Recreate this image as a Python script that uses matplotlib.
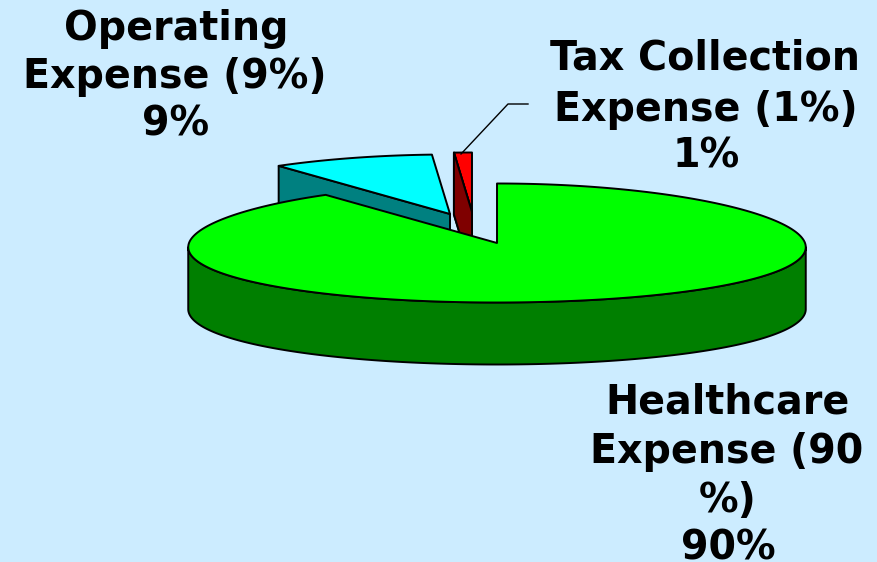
import numpy as np
import matplotlib
matplotlib.use("Agg")
import matplotlib.pyplot as plt
from matplotlib.patches import Polygon

categories = ["Healthcare Expense (90%)", "Operating Expense (9%)", "Tax Collection Expense (1%)"]
values = [90, 9, 1]
percent_labels = ["90%", "9%", "1%"]
top_colors = ["#00FF00", "#00FFFF", "#FF0000"]
side_colors = ["#007F00", "#008080", "#7F0000"]
explode_px = [(0, 0), (-47, -29), (-25, -31)]
wrapped_lines = [["Healthcare", "Expense (90", "%)"], ["Operating", "Expense (9%)"], ["Tax Collection", "Expense (1%)"]]
line_pos = [
    [(728, 413), (727, 463), (728, 512), (728, 559)],
    [(176, 40), (175, 88), (176, 136)],
    [(705, 69), (706, 121), (706, 168)],
]

BG = "#CCECFF"
CX, CY, RX, RY, DEPTH, PERSP = 497, 243, 308, 59.5, 62, 0.07
FS = 28.5

fig = plt.figure(figsize=(8.78, 5.62), dpi=100, facecolor=BG)
ax = fig.add_axes([0, 0, 1, 1])
ax.set_xlim(0, 878)
ax.set_ylim(562, 0)
ax.axis("off")


def rim(a0, a1, dx=0, dy=0):
    a = np.radians(np.linspace(a0, a1, max(int(abs(a1 - a0)) * 2, 2)))
    return np.column_stack([CX + dx + RX * np.sin(a) / (1 + PERSP * np.cos(a)), CY + dy - RY * np.cos(a)])


def poly(pts, color, z, lw=1.4):
    ax.add_patch(Polygon(pts, closed=True, facecolor=color, edgecolor="black", linewidth=lw, joinstyle="round", zorder=z))


edges = np.concatenate([[0], np.cumsum(values)]) * 360 / sum(values)
down = np.array([0, DEPTH])

# Exploded slices sit behind the large one: side faces first, then tops.
for i in (1, 2):
    a0, a1 = edges[i], edges[i + 1]
    dx, dy = explode_px[i]
    apex = np.array([CX + dx, CY + dy])
    corner = rim(a0, a0, dx, dy)[0]
    poly([corner, apex, apex + down, corner + down], side_colors[i], 1 + i)
    poly(np.vstack([[apex], rim(a0, a1, dx, dy)]), top_colors[i], 3 - i + 1 if i == 1 else 2)

# Re-draw the red side over its top, as in the reference.
a0 = edges[2]
dx, dy = explode_px[2]
apex = np.array([CX + dx, CY + dy])
corner = rim(a0, a0, dx, dy)[0]
poly([corner, apex, apex + down, corner + down], side_colors[2], 3)

# Large slice: outer wall (between the silhouette extremes), then top.
wall = rim(94, 266)
poly(np.vstack([wall, (wall + down)[::-1]]), side_colors[0], 5)
poly(np.vstack([[[CX, CY]], rim(edges[0], edges[1])]), top_colors[0], 6)

# Leader line for the small slice
ax.plot([461, 508, 528], [154, 104, 104], color="black", lw=1, zorder=7)

for lines, pct, pos in zip(wrapped_lines, percent_labels, line_pos):
    for txt, (x, y) in zip(lines + [pct], pos):
        ax.text(x, y, txt, ha="center", va="baseline", fontsize=FS, fontweight="bold",
                family="DejaVu Sans", color="black", zorder=8, clip_on=False)

fig.savefig("out.png", dpi=100, facecolor=BG)
